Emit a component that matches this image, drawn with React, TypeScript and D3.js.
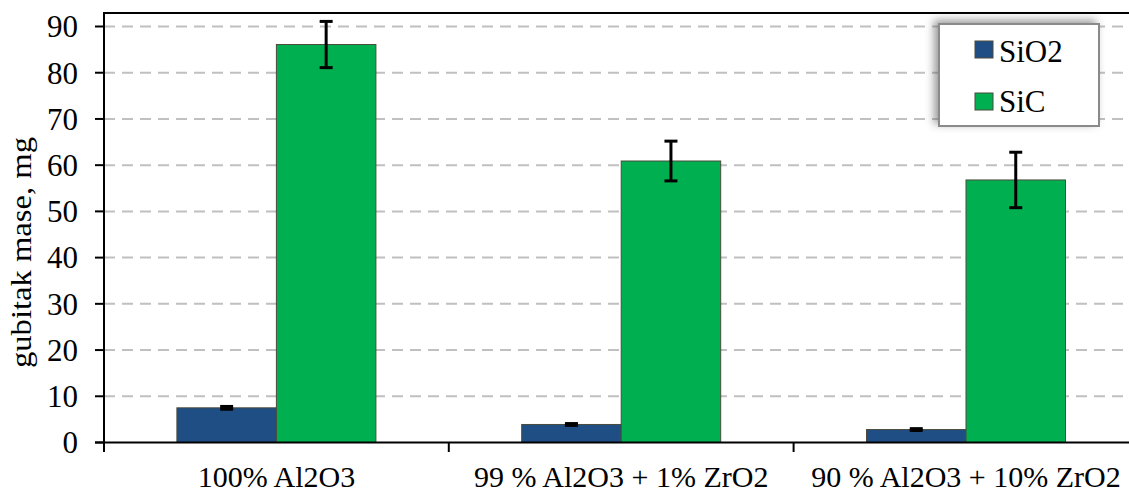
import React from "react";
import * as d3 from "d3";

const categories = ["100% Al2O3", "99 % Al2O3 + 1% ZrO2", "90 % Al2O3 + 10% ZrO2"];
const seriesNames = ["SiO2", "SiC"];
const sio2Values = [7.5, 3.9, 2.8];
const sio2Errors = [0.3, 0.2, 0.2];
const sicValues = [86.1, 60.9, 56.8];
const sicErrors = [5.0, 4.3, 6.0];
const yTicks = [0, 10, 20, 30, 40, 50, 60, 70, 80, 90];
const colors = ["#1F4E84", "#00B050"];

const W = 1129;
const H = 495;
const FONT = "Liberation Serif, Tinos, Times New Roman, Times, serif";

export default function App() {
  const left = 104;
  const catW = 344.8;
  const x = d3.scaleBand<string>().domain(categories).range([left, left + catW * 3]).padding(0);
  const y = d3.scaleLinear().domain([0, 90]).range([442.5, 26.5]);
  const barW = 99.5;
  const inner = d3.scaleBand<string>().domain(seriesNames).range([-barW, barW]).padding(0);

  const series = [
    { name: "SiO2", values: sio2Values, errors: sio2Errors, color: colors[0] },
    { name: "SiC", values: sicValues, errors: sicErrors, color: colors[1] },
  ];

  const y0 = y(0);
  const txt = { fontFamily: FONT, fill: "#000" } as React.CSSProperties;

  return (
    <svg width={W} height={H} style={{ position: "absolute", left: 0, top: 0, display: "block", background: "#fff" }}>
      <defs>
        <filter id="shadow" x="-20%" y="-30%" width="140%" height="160%">
          <feDropShadow dx={-4} dy={-3} stdDeviation={4} floodColor="#555" floodOpacity={0.6} />
        </filter>
      </defs>
      <rect x={0} y={0} width={W} height={H} fill="#fff" />
      {yTicks.filter((t) => t > 0).map((t) => (
        <line key={"g" + t} x1={left} x2={W} y1={y(t)} y2={y(t)} stroke="#C0C0C0" strokeWidth={2} strokeDasharray="11,7" />
      ))}
      <line x1={left - 1} x2={W} y1={13} y2={13} stroke="#000" strokeWidth={2} />
      {series.map((s) =>
        categories.map((c, i) => {
          const cx = (x(c) as number) + x.bandwidth() / 2;
          const bx = cx + (inner(s.name) as number);
          return (
            <rect key={s.name + i} x={bx} y={y(s.values[i])} width={inner.bandwidth()} height={y0 - y(s.values[i])}
              fill={s.color} stroke="#4A4A3C" strokeWidth={1} />
          );
        })
      )}
      {series.map((s) =>
        categories.map((c, i) => {
          const cx = (x(c) as number) + x.bandwidth() / 2 + (inner(s.name) as number) + inner.bandwidth() / 2;
          const top = y(s.values[i] + s.errors[i]);
          const bot = y(s.values[i] - s.errors[i]);
          return (
            <g key={"e" + s.name + i} stroke="#000" strokeWidth={3}>
              <line x1={cx} x2={cx} y1={top} y2={bot} />
              <line x1={cx - 6.5} x2={cx + 6.5} y1={top} y2={top} />
              <line x1={cx - 6.5} x2={cx + 6.5} y1={bot} y2={bot} />
            </g>
          );
        })
      )}
      <line x1={left} x2={left} y1={13} y2={452} stroke="#000" strokeWidth={2} />
      <line x1={left - 9} x2={W} y1={y0} y2={y0} stroke="#000" strokeWidth={2} />
      {yTicks.map((t) => (
        <g key={"t" + t}>
          <line x1={left - 9} x2={left} y1={y(t)} y2={y(t)} stroke="#000" strokeWidth={2} />
          <text x={78} y={y(t)} dy="0.35em" textAnchor="end" style={{ ...txt, fontSize: 31 }}>{t}</text>
        </g>
      ))}
      {d3.range(categories.length + 1).map((i) => {
        const xx = left + catW * i;
        return <line key={"xt" + i} x1={xx} x2={xx} y1={y0} y2={452} stroke="#000" strokeWidth={2} />;
      })}
      {categories.map((c) => (
        <text key={"xl" + c} x={(x(c) as number) + x.bandwidth() / 2} y={487} textAnchor="middle" style={{ ...txt, fontSize: 30 }}>{c}</text>
      ))}
      <text transform={`translate(31, ${y(45) + 18}) rotate(-90)`} textAnchor="middle" style={{ ...txt, fontSize: 30 }} textLength={231} lengthAdjust="spacingAndGlyphs">gubitak mase, mg</text>
      <rect x={939} y={24} width={160} height={102} fill="#fff" stroke="#8A8A8A" strokeWidth={2} filter="url(#shadow)" />
      {series.map((s, i) => (
        <g key={"lg" + s.name}>
          <rect x={975} y={41 + i * 52} width={18} height={17} fill={s.color} stroke="#4A4A3C" strokeWidth={1} />
          <text x={999} y={62 + i * 50} style={{ ...txt, fontSize: 31 }}>{s.name}</text>
        </g>
      ))}
    </svg>
  );
}
